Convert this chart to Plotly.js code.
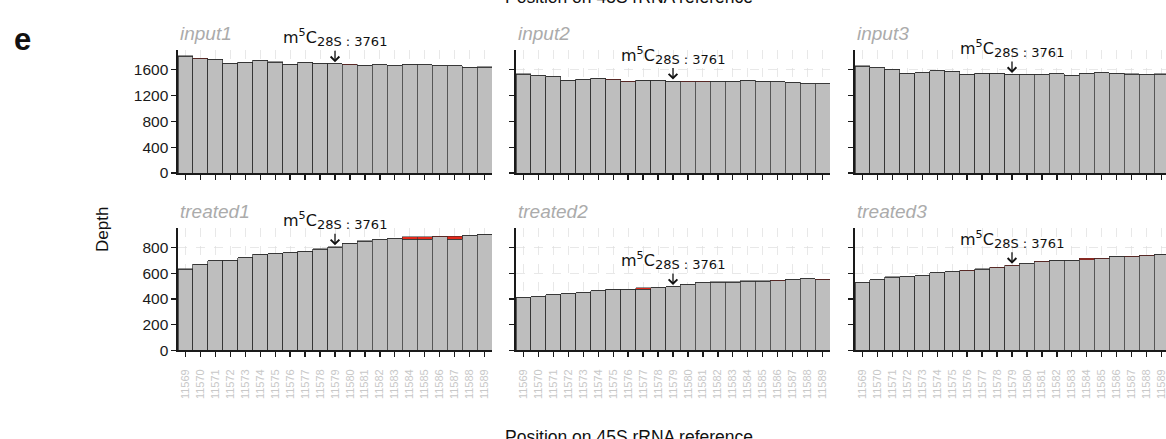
<!DOCTYPE html>
<html>
<head>
<meta charset="utf-8">
<script src="https://cdn.plot.ly/plotly-3.0.1.min.js"></script>
<style>
html,body{margin:0;padding:0;overflow:hidden;background:#fff;}
#chart{width:1172px;height:439px;}
</style>
</head>
<body>
<div id="chart"></div>
<script>
// ---- data ----
const positions = [11569,11570,11571,11572,11573,11574,11575,11576,11577,11578,11579,11580,11581,11582,11583,11584,11585,11586,11587,11588,11589];
const positionLabels = ["11569","11570","11571","11572","11573","11574","11575","11576","11577","11578","11579","11580","11581","11582","11583","11584","11585","11586","11587","11588","11589"];
const sampleNames = ["input1","input2","input3","treated1","treated2","treated3"];

// total read depth per position
const depthInput1   = [1815,1776,1766,1699,1714,1745,1725,1688,1714,1704,1693,1683,1673,1678,1662,1688,1678,1662,1662,1636,1647];
const depthInput2   = [1538,1507,1491,1434,1450,1465,1450,1418,1434,1434,1424,1418,1418,1424,1424,1434,1424,1413,1403,1382,1382];
const depthInput3   = [1662,1631,1610,1548,1553,1584,1574,1527,1543,1543,1527,1533,1533,1538,1517,1548,1553,1543,1538,1533,1538];
const depthTreated1 = [634,668,696,702,720,748,753,759,772,790,805,834,852,860,867,883,883,888,888,891,904];
const depthTreated2 = [408,418,434,439,449,462,475,475,486,488,496,512,527,532,532,540,540,545,553,556,553];
const depthTreated3 = [527,548,571,574,582,603,613,621,634,647,662,673,691,701,701,717,717,730,732,740,748];

// mismatch (C->T) counts, drawn in red on top of each bar
const mmInput1   = [8,6,0,0,0,0,6,0,0,0,0,6,6,0,0,6,0,0,0,0,6];
const mmInput2   = [6,0,0,0,0,0,6,6,0,0,0,6,6,0,0,0,0,0,0,0,0];
const mmInput3   = [6,0,6,6,0,0,0,0,0,0,0,6,6,0,6,6,0,0,6,0,6];
const mmTreated1 = [4,0,0,0,0,0,0,0,3,4,4,0,3,0,0,20,18,3,25,0,0];
const mmTreated2 = [0,0,0,0,0,0,0,0,11,0,0,0,0,3,3,3,3,3,0,0,3];
const mmTreated3 = [0,0,3,0,0,0,3,3,3,3,3,0,3,0,0,14,3,0,3,3,0];

const siteIndex = 10; // position 11579 = m5C 28S:3761
const topTicks = [0,400,800,1200,1600];
const bottomTicks = [0,200,400,600,800];
// ---------------

const depths = [depthInput1,depthInput2,depthInput3,depthTreated1,depthTreated2,depthTreated3];
const mms = [mmInput1,mmInput2,mmInput3,mmTreated1,mmTreated2,mmTreated3];

const W = 1172, H = 439;
const px = x => x / W;
const py = y => 1 - y / H;
const colPix = [[178,492],[516,830],[855,1169]];
const rowPix = [[50,173],[228.3,350.3]];

const GRAY = '#bebebe', RED = '#e4291a', OUT = '#2a2a2a';
const traces = [];
const layout = {
  width: W, height: H,
  margin: {l:0,r:0,t:0,b:0},
  paper_bgcolor: '#fff', plot_bgcolor: '#fff',
  barmode: 'stack', bargap: 0,
  showlegend: false,
  font: {family: 'Liberation Sans, Arial, sans-serif', color: '#1a1a1a'},
  annotations: []
};

const topMax = Math.max(...depthInput1, ...depthInput2, ...depthInput3) * 1.05;
const botMax = Math.max(...depthTreated1, ...depthTreated2, ...depthTreated3) * 1.05;

for (let i = 0; i < 6; i++) {
  const row = i < 3 ? 0 : 1, col = i % 3;
  const xa = 'x' + (i + 1), ya = 'y' + (i + 1);
  const xk = 'xaxis' + (i === 0 ? '' : i + 1), yk = 'yaxis' + (i === 0 ? '' : i + 1);
  const gray = depths[i].map((d, k) => d - mms[i][k]);
  traces.push({type:'bar', x: positions, y: gray, xaxis: xa, yaxis: ya,
    marker:{color: GRAY, line:{color: OUT, width: 0.7}}, hoverinfo:'skip'});
  traces.push({type:'bar', x: positions, y: mms[i], xaxis: xa, yaxis: ya,
    marker:{color: RED, line:{color: OUT, width: 0.5}}, hoverinfo:'skip'});

  layout[xk] = {
    domain: [px(colPix[col][0]), px(colPix[col][1])],
    anchor: ya,
    range: [positions[0] - 0.5, positions[positions.length - 1] + 0.5],
    tickmode: 'array', tickvals: positions, ticktext: positionLabels,
    showticklabels: row === 1, tickangle: -90,
    tickfont: {size: 11, color: '#c8c8c8'},
    ticks: 'outside', ticklen: 5, tickwidth: 1.3, tickcolor: '#1a1a1a',
    ticklabelstandoff: 8,
    showline: true, linecolor: '#1a1a1a', linewidth: 1.6,
    showgrid: true, gridcolor: '#dedede', gridwidth: 0.7, griddash: 'dash',
    zeroline: false, fixedrange: true
  };
  layout[yk] = {
    domain: [py(rowPix[row][1]), py(rowPix[row][0])],
    anchor: xa,
    range: [0, row === 0 ? topMax : botMax],
    tickmode: 'array', tickvals: row === 0 ? topTicks : bottomTicks,
    showticklabels: col === 0,
    tickfont: {size: 15.5, color: '#1a1a1a'},
    ticks: 'outside', ticklen: 5, tickwidth: 1.3, tickcolor: '#1a1a1a',
    showline: true, linecolor: '#1a1a1a', linewidth: 1.6,
    showgrid: true, gridcolor: '#dedede', gridwidth: 0.7, griddash: 'dash',
    zeroline: false, fixedrange: true
  };

  // facet strip label
  layout.annotations.push({
    xref: 'paper', yref: 'paper',
    x: px(colPix[col][0]), y: py(row === 0 ? 33 : 212),
    xanchor: 'left', yanchor: 'middle', showarrow: false,
    text: '<i>' + sampleNames[i] + '</i>',
    font: {size: 19, color: '#ababab'}
  });
  // modification site marker
  layout.annotations.push({
    xref: xa, yref: ya,
    x: positions[siteIndex], y: depths[i][siteIndex],
    text: 'm<sup>5</sup>C<sub><span style="font-size:13px">28S : 3761</span></sub>',
    showarrow: true, arrowhead: 4, arrowsize: 1.3, arrowwidth: 1.3, arrowcolor: '#111',
    ax: 0, ay: -26, standoff: 1.5,
    font: {family: 'DejaVu Sans, sans-serif', size: 16, color: '#111'}
  });
}

layout.annotations.push(
  {xref:'paper', yref:'paper', x: px(22), y: py(39), xanchor:'center', yanchor:'middle',
   showarrow:false, text:'<b>e</b>', font:{size: 31, color:'#111'}},
  {xref:'paper', yref:'paper', x: px(102), y: py(230), xanchor:'center', yanchor:'middle',
   showarrow:false, text:'Depth', textangle: -90, font:{size: 17, color:'#111'}},
  {xref:'paper', yref:'paper', x: px(629), y: py(-3), xanchor:'center', yanchor:'middle',
   showarrow:false, text:'Position on 45S rRNA reference', font:{size: 17.5, color:'#111'}},
  {xref:'paper', yref:'paper', x: px(629), y: py(437), xanchor:'center', yanchor:'middle',
   showarrow:false, text:'Position on 45S rRNA reference', font:{size: 17.5, color:'#111'}}
);

Plotly.newPlot('chart', traces, layout, {staticPlot: true, displayModeBar: false});
</script>
</body>
</html>
